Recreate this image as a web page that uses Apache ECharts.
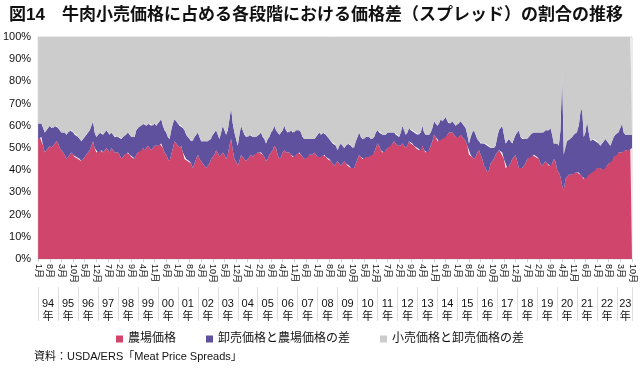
<!DOCTYPE html>
<html><head><meta charset="utf-8">
<script src="https://cdn.jsdelivr.net/npm/echarts@6/dist/echarts.min.js"></script>
<style>html,body{margin:0;padding:0;background:#fff;}#c{width:640px;height:370px;}</style>
</head><body><div id="c"></div>
<script>
// Year labels (1994 - 2023) and month names
var yearLabels = ['94','95','96','97','98','99','00','01','02','03','04','05','06','07','08','09','10','11','12','13','14','15','16','17','18','19','20','21','22','23'];
var monthNames = ['1月','2月','3月','4月','5月','6月','7月','8月','9月','10月','11月','12月'];
var lastYearMonths = 10;

// Farm value share of retail price (%), monthly
var farmShare = [
54,55,55,51,48,49,50,51,50,51,52,53,
52,50,49,48,47,45,46,47,48,47,46,46,
45,45,44,45,46,47,48,49,51,53,50,48,
48,49,49,48,49,50,49,48,50,49,48,48,
48,47,45,46,47,48,48,47,46,46,45,47,
48,49,49,50,49,50,51,50,49,50,51,51,
51,52,52,50,48,47,45,44,47,50,53,52,
51,50,51,48,45,45,44,44,43,41,43,45,
47,45,44,43,42,41,42,43,45,46,47,49,
48,46,47,48,47,45,47,51,54,49,45,44,
42,44,47,46,45,44,45,46,47,46,47,48,
48,48,48,47,46,44,45,47,48,49,51,50,
47,45,46,48,49,48,48,48,47,46,46,47,
48,48,47,46,45,46,46,47,47,47,48,47,
46,46,46,47,47,46,45,45,44,43,42,43,
44,43,42,43,44,43,42,42,41,41,41,43,
45,47,46,45,45,46,46,46,47,47,48,50,
52,51,49,48,48,49,50,51,51,52,53,52,
51,51,51,52,51,50,51,53,52,52,51,50,
50,49,49,51,49,48,48,49,51,53,56,55,
53,53,54,54,55,55,56,57,57,57,56,55,
55,55,56,55,54,53,51,47,47,46,45,46,
48,49,47,45,42,41,39,40,43,44,45,47,
48,49,48,48,45,41,41,42,43,45,46,47,
44,41,41,41,42,43,45,46,46,47,47,46,
46,45,43,42,43,44,43,42,42,43,45,44,
40,39,37,33,31,36,37,38,38,38,39,39,
39,39,38,37,36,36,38,38,39,39,40,40,
41,41,41,40,41,41,42,43,44,44,46,47,
47,48,48,48,49,49,49,49,50,50
];
// Wholesale value share of retail price (%) = farm share + wholesale-farm spread
var wholesaleShare = [
61,61,61,59,57,58,59,60,59,59,60,60,
59,58,57,57,57,56,57,58,58,57,56,56,
55,54,53,54,55,56,57,58,60,62,57,55,
56,57,57,56,57,58,57,56,57,56,55,55,
55,55,54,55,56,56,57,56,55,55,55,58,
59,60,60,61,61,60,61,61,60,60,61,60,
61,62,63,60,58,57,55,54,58,61,63,62,
61,60,60,59,58,56,55,54,53,53,55,56,
57,55,53,53,53,53,53,54,54,56,57,58,
56,54,57,60,58,56,58,63,68,61,57,54,
51,56,60,58,56,55,55,56,56,55,55,55,
56,56,57,55,54,52,54,55,57,58,60,58,
57,56,57,58,60,58,57,57,58,57,57,58,
58,58,57,55,54,54,54,54,54,54,54,55,
56,57,56,57,57,56,55,54,53,52,52,51,
49,51,52,51,50,51,52,52,51,50,50,53,
55,57,55,54,54,55,55,55,54,54,55,57,
58,57,57,56,56,56,57,57,57,57,57,56,
56,55,57,60,58,56,57,59,58,58,57,57,
56,56,57,60,57,56,56,56,57,59,62,61,
60,61,63,62,63,64,62,61,61,62,61,60,
61,61,62,61,60,59,56,52,55,57,58,56,
54,53,52,52,52,52,51,51,50,50,50,51,
55,58,59,60,56,52,53,54,53,52,54,56,
57,58,55,54,54,54,54,55,56,57,57,57,
57,57,57,57,57,58,58,58,59,56,52,52,
52,51,58,83,47,53,53,54,54,55,56,57,
57,60,66,68,55,57,62,57,53,54,54,53,
53,52,51,52,53,54,53,52,51,53,55,56,
57,57,59,61,57,56,56,56,56,56
];
var seriesNames = ['農場価格','卸売価格と農場価格の差','小売価格と卸売価格の差'];
var colors = ['#D0456B','#5F519E','#CCCCCC'];

// categories
var cats = [], yearAt = {};
for (var y = 0; y < yearLabels.length; y++) {
  var n = (y === yearLabels.length - 1) ? lastYearMonths : 12;
  for (var m = 0; m < n; m++) cats.push(monthNames[m]);
}
var N = cats.length;
for (var y = 0; y < yearLabels.length; y++) {
  var start = y * 12, end = Math.min(start + 12, N - 1);
  yearAt[Math.round((start + end) / 2)] = yearLabels[y];
}
var spreadWF = farmShare.map(function (v, i) { return wholesaleShare[i] - v; });
var spreadRW = wholesaleShare.map(function (v) { return 100 - v; });
var dataSets = [farmShare, spreadWF, spreadRW];

var FONT = "'Liberation Sans','Noto Sans CJK JP',sans-serif";
var chart = echarts.init(document.getElementById('c'));
chart.setOption({
  animation: false,
  textStyle: { fontFamily: FONT },
  title: {
    text: '図14　牛肉小売価格に占める各段階における価格差（スプレッド）の割合の推移',
    left: 4, top: 2,
    textStyle: { fontSize: 17, fontWeight: 'bold', color: '#111', fontFamily: FONT }
  },
  legend: {
    data: seriesNames, bottom: 20, left: 'center', icon: 'rect',
    itemWidth: 7, itemHeight: 7, itemGap: 30,
    textStyle: { fontSize: 12, color: '#111', fontFamily: FONT }
  },
  graphic: [{
    type: 'text', left: 34, top: 351,
    style: { text: '資料：USDA/ERS「Meat Price Spreads」', fontSize: 11, fill: '#111', fontFamily: FONT }
  }],
  grid: { left: 38, right: 8, top: 37, bottom: 111, show: true, borderColor: '#d9d9d9', borderWidth: 1 },
  xAxis: [{
    type: 'category', data: cats, boundaryGap: false, position: 'bottom',
    axisLine: { show: false },
    axisTick: { show: true, interval: 6, length: 3, lineStyle: { color: '#d0d0d0' } },
    axisLabel: { interval: 6, rotate: -90, fontSize: 9, color: '#111', margin: 5, fontFamily: FONT }
  }, {
    type: 'category', data: cats, boundaryGap: false, position: 'bottom', offset: 28,
    axisLine: { show: false },
    axisTick: { show: true, length: 34, lineStyle: { color: '#dedede' },
      interval: function (i) { return i % 12 === 0 || i === N - 1; } },
    axisLabel: { fontSize: 11, color: '#111', margin: 10, lineHeight: 13, fontFamily: FONT,
      interval: function (i) { return yearAt[i] !== undefined; },
      formatter: function (v, i) { return yearAt[i] + '\n年'; } }
  }],
  yAxis: {
    type: 'value', min: 0, max: 100, interval: 10,
    axisLine: { show: false }, axisTick: { show: false }, splitLine: { show: false },
    axisLabel: { formatter: '{value}%', fontSize: 11, color: '#111', margin: 7, fontFamily: FONT }
  },
  series: dataSets.map(function (d, k) {
    return {
      name: seriesNames[k], type: 'line', stack: 'total', data: d, xAxisIndex: 0,
      symbol: 'none', lineStyle: { width: 0 }, areaStyle: { color: colors[k], opacity: 1 },
      itemStyle: { color: colors[k] }
    };
  })
});
</script></body></html>
